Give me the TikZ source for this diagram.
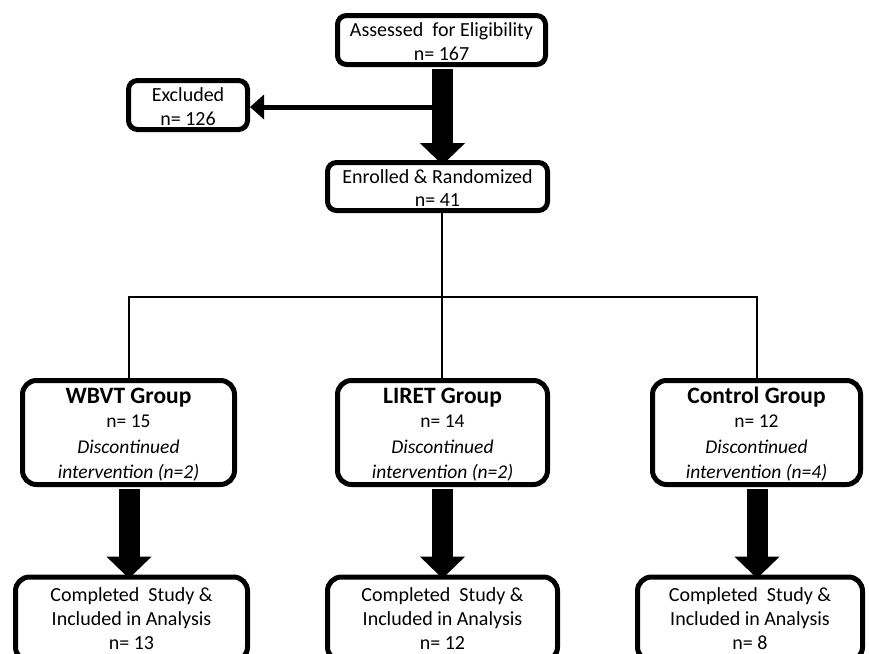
\documentclass[tikz,border=0pt]{standalone}
\usepackage{fontspec}
\setmainfont{Carlito}
\usepackage{tikz}
\usetikzlibrary{arrows.meta, positioning}

\tikzset{
	box/.style={draw, line width=5pt, rounded corners=9pt, align=center, inner sep=0pt,
		font=\fontsize{20}{23.5}\selectfont},
	groupbox/.style={box, rounded corners=14pt, font=\fontsize{19.5}{25.5}\selectfont},
	donebox/.style={box, rounded corners=14pt, font=\fontsize{20}{24}\selectfont},
	bigarrow/.style={line width=21pt, -{Triangle[width=44pt, length=22pt]}},
	sidearrow/.style={line width=5pt, -{Triangle[width=24pt, length=14pt]}},
	tree/.style={line width=2pt},
}

\newcommand{\grouptitle}[1]{{\fontsize{23.5}{27}\selectfont\bfseries #1}}
\newcommand{\boxstrut}{\rule{0pt}{17pt}}

\begin{document}
\begin{tikzpicture}[x=1pt, y=-1pt]

\useasboundingbox (0,0) rectangle (869,653);

% top part
\node[box, minimum width=208pt, minimum height=49pt] (assess) at (441.5, 40) {\boxstrut Assessed\ \ for Eligibility\\n= 167};
\node[box, minimum width=119pt, minimum height=49pt] (excl) at (188, 105) {\boxstrut Excluded\\n= 126};
\node[box, minimum width=220pt, minimum height=48pt] (enrol) at (437.5, 186.5) {\boxstrut Enrolled \& Randomized\\n= 41};

\coordinate (split excl) at (442.5, 107);
\draw[sidearrow] (split excl) -- (split excl -| excl.east);
\draw[bigarrow] ([yshift=-2pt]assess.south -| split excl) -- ([yshift=-5pt]enrol.north -| split excl);

% groups
\node[groupbox, minimum width=212pt, minimum height=104pt] (wbvt) at (128.5, 432.5)
	{\grouptitle{\rule{0pt}{20pt}WBVT Group}\\[-1pt]n= 15\\\textit{Discontinued}\\\textit{intervention (n=2)}};
\node[groupbox, minimum width=210pt, minimum height=104pt] (liret) at (442.5, 432.5)
	{\grouptitle{\rule{0pt}{20pt}LIRET Group}\\[-1pt]n= 14\\\textit{Discontinued}\\\textit{intervention (n=2)}};
\node[groupbox, minimum width=208pt, minimum height=104pt] (ctrl) at (756.5, 432.5)
	{\grouptitle{\rule{0pt}{20pt}Control Group}\\[-1pt]n= 12\\\textit{Discontinued}\\\textit{intervention (n=4)}};

\coordinate (branch) at (442, 297);
\draw[tree] (enrol.south -| branch) -- (branch);
\draw[tree] (wbvt.north -| 129,0) |- (branch) -| (ctrl.north -| 757,0);
\draw[tree] (branch) -- (liret.north -| branch);

% completed
\node[donebox, minimum width=232pt, minimum height=84pt] (wbvt done) at (131.5, 619) {Completed\ \ Study \&\\Included in Analysis\\n= 13};
\node[donebox, minimum width=230pt, minimum height=84pt] (liret done) at (442.5, 619) {Completed\ \ Study \&\\Included in Analysis\\n= 12};
\node[donebox, minimum width=225pt, minimum height=84pt] (ctrl done) at (750, 619) {Completed\ \ Study \&\\Included in Analysis\\n= 8};

\draw[bigarrow] ([yshift=-2pt]wbvt.south -| 129,0) -- ([yshift=-4pt]wbvt done.north -| 129,0);
\draw[bigarrow] ([yshift=-2pt]liret.south -| 442.5,0) -- ([yshift=-4pt]liret done.north -| 442.5,0);
\draw[bigarrow] ([yshift=-2pt]ctrl.south -| 757,0) -- ([yshift=-4pt]ctrl done.north -| 757,0);

\end{tikzpicture}
\end{document}
